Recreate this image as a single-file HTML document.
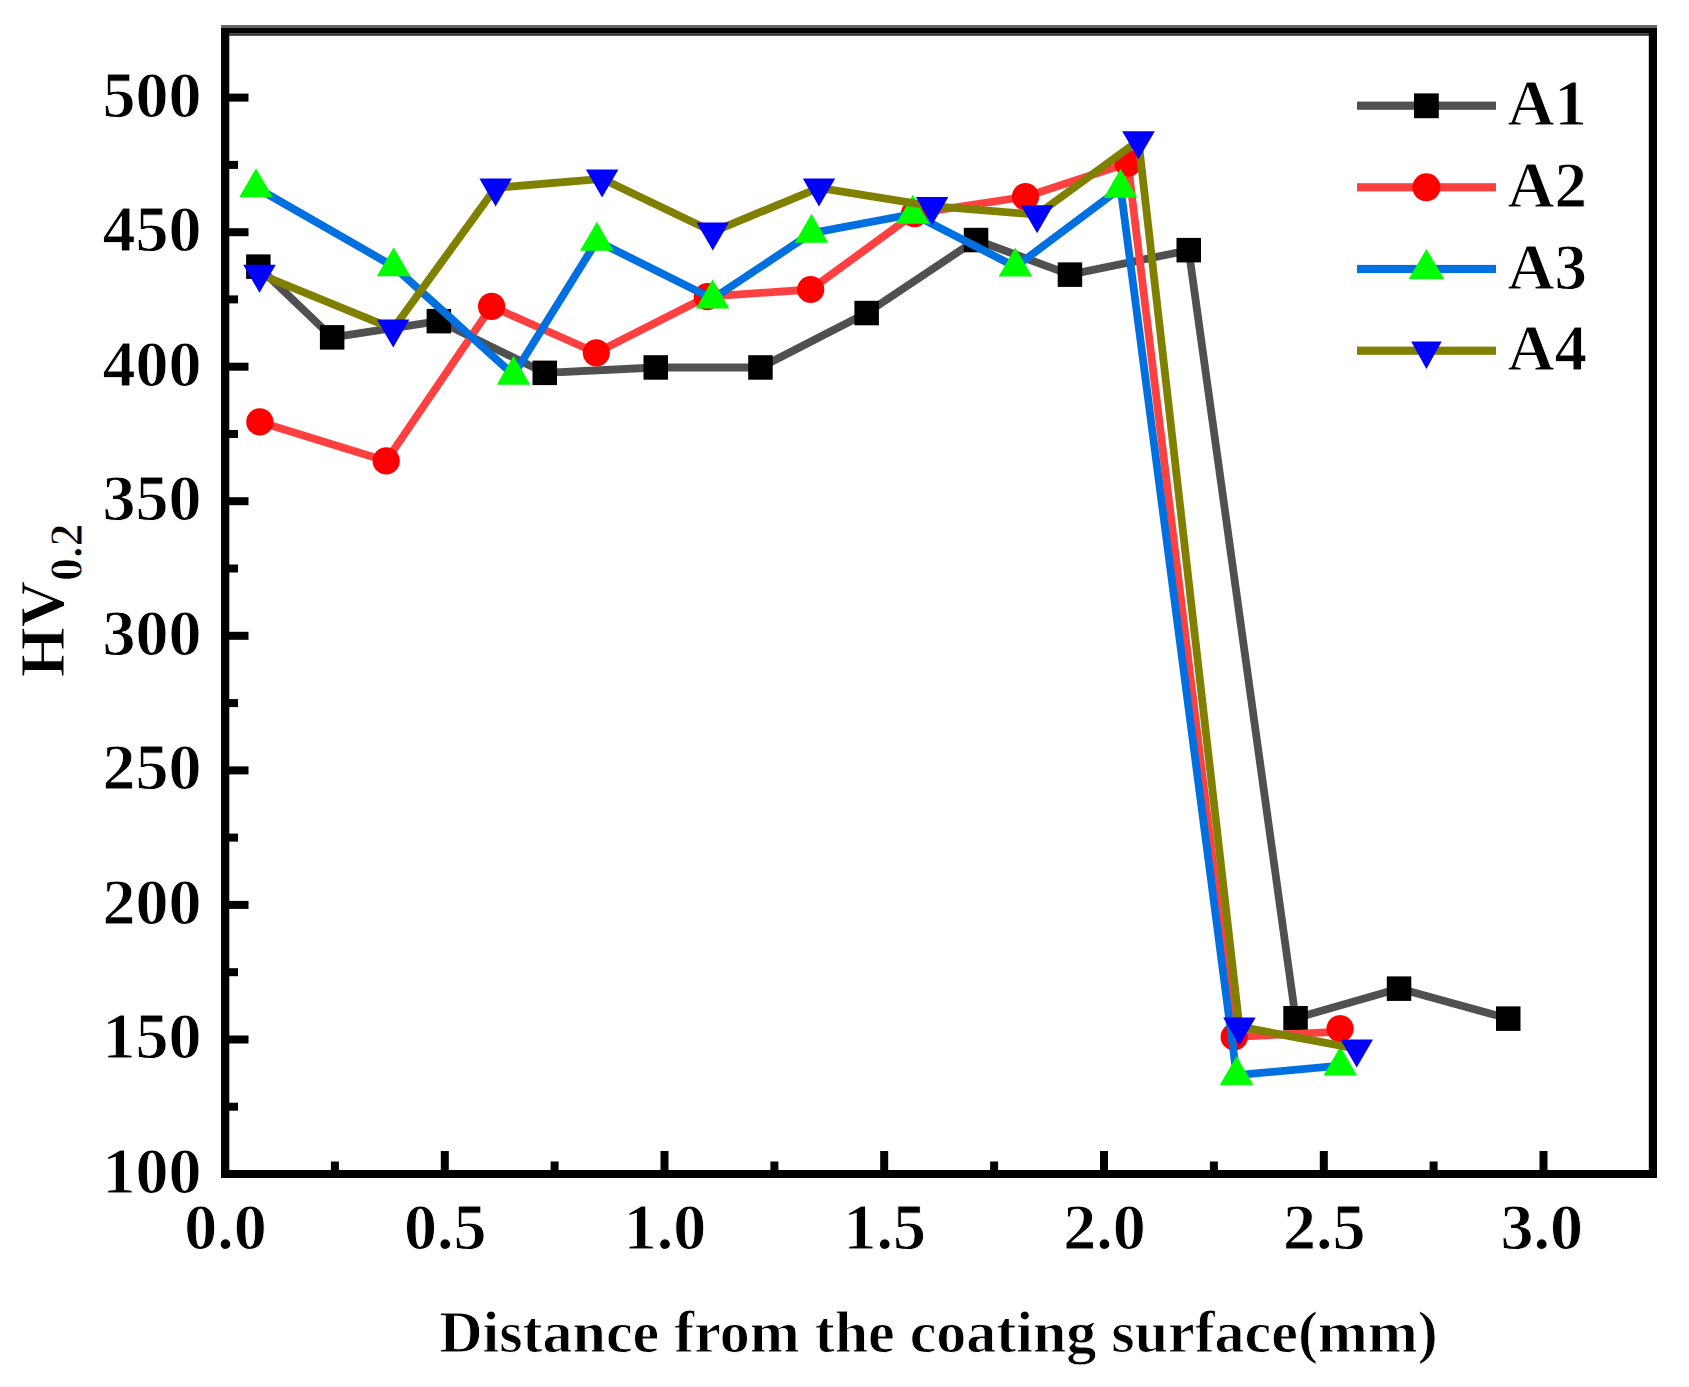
<!DOCTYPE html>
<html lang="en"><head><meta charset="utf-8"><title>Microhardness profile</title>
<style>html,body{margin:0;padding:0;background:#fff}body{width:1689px;height:1387px;overflow:hidden}svg{display:block}text{font-family:"Liberation Serif","Times New Roman",serif;font-weight:bold;fill:#000;stroke:#fff;stroke-width:0.9px;paint-order:fill}</style></head><body>
<svg width="1689" height="1387" viewBox="0 0 1689 1387">
<rect width="1689" height="1387" fill="#fff"/>
<g id="a1"><polyline fill="none" stroke="#505050" stroke-width="7.8" stroke-linejoin="round" points="258.3,266.6 332.1,337.3 438.8,321.1 544.7,372.8 655.8,367.5 760.5,367.5 866.6,313.0 976.0,240.0 1069.9,274.6 1188.7,250.2 1295.6,1018.2 1399.1,988.6 1508.2,1018.6"/><rect x="246.1" y="254.4" width="24.5" height="24.5" fill="#000"/><rect x="319.9" y="325.1" width="24.5" height="24.5" fill="#000"/><rect x="426.6" y="308.9" width="24.5" height="24.5" fill="#000"/><rect x="532.5" y="360.6" width="24.5" height="24.5" fill="#000"/><rect x="643.5" y="355.2" width="24.5" height="24.5" fill="#000"/><rect x="748.2" y="355.2" width="24.5" height="24.5" fill="#000"/><rect x="854.4" y="300.8" width="24.5" height="24.5" fill="#000"/><rect x="963.8" y="227.8" width="24.5" height="24.5" fill="#000"/><rect x="1057.7" y="262.4" width="24.5" height="24.5" fill="#000"/><rect x="1176.5" y="237.9" width="24.5" height="24.5" fill="#000"/><rect x="1283.3" y="1006.0" width="24.5" height="24.5" fill="#000"/><rect x="1386.8" y="976.4" width="24.5" height="24.5" fill="#000"/><rect x="1496.0" y="1006.4" width="24.5" height="24.5" fill="#000"/></g>
<g id="a2"><polyline fill="none" stroke="#ff4040" stroke-width="7.8" stroke-linejoin="round" points="259.8,421.9 386.2,460.9 491.6,306.4 596.3,352.8 707.3,296.6 810.7,289.5 914.5,213.7 1025.5,196.7 1127.9,163.1 1234.2,1036.9 1340.1,1031.6"/><circle cx="259.8" cy="421.9" r="13.6" fill="#ff0000"/><circle cx="386.2" cy="460.9" r="13.6" fill="#ff0000"/><circle cx="491.6" cy="306.4" r="13.6" fill="#ff0000"/><circle cx="596.3" cy="352.8" r="13.6" fill="#ff0000"/><circle cx="707.3" cy="296.6" r="13.6" fill="#ff0000"/><circle cx="810.7" cy="289.5" r="13.6" fill="#ff0000"/><circle cx="914.5" cy="213.7" r="13.6" fill="#ff0000"/><circle cx="1025.5" cy="196.7" r="13.6" fill="#ff0000"/><circle cx="1127.9" cy="163.1" r="13.6" fill="#ff0000"/><circle cx="1234.2" cy="1036.9" r="13.6" fill="#ff0000"/><circle cx="1340.1" cy="1028.6" r="13.6" fill="#ff0000"/></g>
<g id="a3"><polyline fill="none" stroke="#0070e0" stroke-width="7.8" stroke-linejoin="round" points="256.0,187.5 393.7,266.5 513.5,375.0 596.8,241.0 712.6,298.8 811.5,233.1 912.9,214.0 1015.4,266.8 1120.6,188.1 1236.6,1075.2 1340.3,1065.7"/><polygon points="256.0,168.2 239.2,197.2 272.8,197.2" fill="#00ff00"/><polygon points="393.7,247.2 376.9,276.2 410.4,276.2" fill="#00ff00"/><polygon points="513.5,355.7 496.8,384.7 530.2,384.7" fill="#00ff00"/><polygon points="596.8,221.7 580.0,250.7 613.5,250.7" fill="#00ff00"/><polygon points="712.6,279.5 695.9,308.5 729.4,308.5" fill="#00ff00"/><polygon points="811.5,213.8 794.8,242.8 828.2,242.8" fill="#00ff00"/><polygon points="912.9,194.7 896.1,223.7 929.6,223.7" fill="#00ff00"/><polygon points="1015.4,247.5 998.6,276.5 1032.2,276.5" fill="#00ff00"/><polygon points="1120.6,168.8 1103.8,197.8 1137.3,197.8" fill="#00ff00"/><polygon points="1236.6,1055.9 1219.8,1084.9 1253.3,1084.9" fill="#00ff00"/><polygon points="1340.3,1046.4 1323.5,1075.4 1357.0,1075.4" fill="#00ff00"/></g>
<g id="a4"><polyline fill="none" stroke="#808000" stroke-width="7.8" stroke-linejoin="round" points="259.5,274.1 393.2,328.8 495.6,187.8 602.1,178.8 712.8,231.8 819.0,187.8 932.1,206.2 1037.1,214.6 1138.5,140.6 1239.4,1026.7 1356.7,1048.7"/><polygon points="259.5,292.8 243.2,264.8 275.8,264.8" fill="#0000ff"/><polygon points="393.2,347.5 376.9,319.5 409.4,319.5" fill="#0000ff"/><polygon points="495.6,206.5 479.4,178.5 511.9,178.5" fill="#0000ff"/><polygon points="602.1,197.5 585.9,169.5 618.4,169.5" fill="#0000ff"/><polygon points="712.8,250.5 696.5,222.5 729.0,222.5" fill="#0000ff"/><polygon points="819.0,206.5 802.8,178.5 835.2,178.5" fill="#0000ff"/><polygon points="932.1,224.9 915.9,196.9 948.4,196.9" fill="#0000ff"/><polygon points="1037.1,233.3 1020.8,205.3 1053.3,205.3" fill="#0000ff"/><polygon points="1138.5,159.3 1122.2,131.3 1154.8,131.3" fill="#0000ff"/><polygon points="1239.4,1045.4 1223.2,1017.4 1255.7,1017.4" fill="#0000ff"/><polygon points="1356.7,1067.4 1340.5,1039.4 1373.0,1039.4" fill="#0000ff"/></g>
<g fill="#000">
<rect x="221" y="28" width="8.3" height="1150"/>
<rect x="1648.8" y="28" width="8.2" height="1150"/>
<rect x="221" y="25" width="1436" height="3.2" fill="#666"/>
<rect x="221" y="28" width="1436" height="5.5"/>
<rect x="229" y="33.4" width="1420" height="2.4" fill="#333"/>
<rect x="221" y="1170" width="1436" height="8"/>
<rect x="229" y="1102.7" width="9.0" height="8"/>
<rect x="229" y="1035.5" width="19.5" height="8"/>
<rect x="229" y="968.2" width="9.0" height="8"/>
<rect x="229" y="900.9" width="19.5" height="8"/>
<rect x="229" y="833.6" width="9.0" height="8"/>
<rect x="229" y="766.4" width="19.5" height="8"/>
<rect x="229" y="699.1" width="9.0" height="8"/>
<rect x="229" y="631.8" width="19.5" height="8"/>
<rect x="229" y="564.5" width="9.0" height="8"/>
<rect x="229" y="497.2" width="19.5" height="8"/>
<rect x="229" y="430.0" width="9.0" height="8"/>
<rect x="229" y="362.7" width="19.5" height="8"/>
<rect x="229" y="295.4" width="9.0" height="8"/>
<rect x="229" y="228.2" width="19.5" height="8"/>
<rect x="229" y="160.9" width="9.0" height="8"/>
<rect x="229" y="93.6" width="19.5" height="8"/>
<rect x="330.9" y="1161.5" width="8" height="8.5"/>
<rect x="440.8" y="1151.0" width="8" height="19.0"/>
<rect x="550.6" y="1161.5" width="8" height="8.5"/>
<rect x="660.5" y="1151.0" width="8" height="19.0"/>
<rect x="770.4" y="1161.5" width="8" height="8.5"/>
<rect x="880.2" y="1151.0" width="8" height="19.0"/>
<rect x="990.1" y="1161.5" width="8" height="8.5"/>
<rect x="1100.0" y="1151.0" width="8" height="19.0"/>
<rect x="1209.9" y="1161.5" width="8" height="8.5"/>
<rect x="1319.8" y="1151.0" width="8" height="19.0"/>
<rect x="1429.6" y="1161.5" width="8" height="8.5"/>
<rect x="1539.5" y="1151.0" width="8" height="19.0"/>
</g>
<g font-size="66" text-anchor="end">
<text x="201.5" y="1192.9">100</text>
<text x="201.5" y="1058.4">150</text>
<text x="201.5" y="923.8">200</text>
<text x="201.5" y="789.2">250</text>
<text x="201.5" y="654.7">300</text>
<text x="201.5" y="520.1">350</text>
<text x="201.5" y="385.6">400</text>
<text x="201.5" y="251.1">450</text>
<text x="201.5" y="116.5">500</text>
</g>
<g font-size="66" text-anchor="middle">
<text x="225.5" y="1249">0.0</text>
<text x="445.2" y="1249">0.5</text>
<text x="665.0" y="1249">1.0</text>
<text x="884.8" y="1249">1.5</text>
<text x="1104.5" y="1249">2.0</text>
<text x="1324.2" y="1249">2.5</text>
<text x="1541.7" y="1249">3.0</text>
</g>
<text id="xt" x="938.5" y="1352" font-size="60" text-anchor="middle">Distance from the coating surface(mm)</text>
<text id="yt" transform="translate(63.5,677) rotate(-90)" font-size="64">HV<tspan font-size="46" dy="18.5">0.2</tspan></text>
<rect x="1357" y="101.6" width="139" height="8.2" fill="#505050"/>
<rect x="1357" y="183.2" width="139" height="8.2" fill="#ff4040"/>
<rect x="1357" y="264.9" width="139" height="8.2" fill="#0070e0"/>
<rect x="1357" y="346.6" width="139" height="8.2" fill="#808000"/>
<rect x="1414.0" y="93.4" width="24.8" height="24.8" fill="#000"/>
<circle cx="1426.4" cy="187.3" r="14.0" fill="#ff0000"/>
<polygon points="1426.4,249.0 1408.7,279.0 1444.2,279.0" fill="#00ff00"/>
<polygon points="1426.4,369.0 1411.2,341.5 1441.7,341.5" fill="#0000ff"/>
<g font-size="65">
<text class="lg" x="1507.5" y="125.3">A1</text>
<text class="lg" x="1507.5" y="206.9">A2</text>
<text class="lg" x="1507.5" y="288.6">A3</text>
<text class="lg" x="1507.5" y="370.3">A4</text>
</g>
</svg></body></html>
